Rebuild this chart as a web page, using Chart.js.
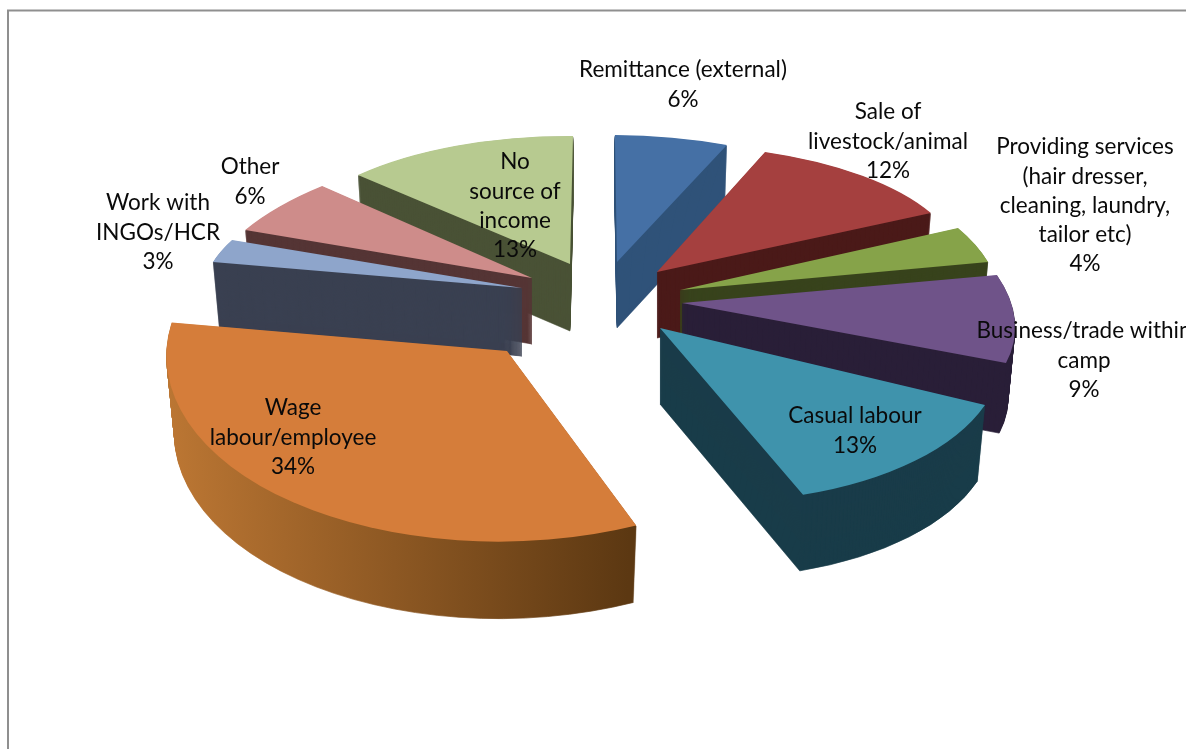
<!DOCTYPE html>
<html><head><meta charset="utf-8">
<style>html,body{margin:0;padding:0;background:#fff;overflow:hidden}canvas{display:block}</style>
<script src="https://cdn.jsdelivr.net/npm/chart.js@4"></script>
</head><body><canvas id="c" width="1186" height="749"></canvas>
<script>
const categories = ["Remittance (external)","Sale of livestock/animal","Providing services (hair dresser, cleaning, laundry, tailor etc)","Business/trade within camp","Casual labour","Wage labour/employee","Work with INGOs/HCR","Other","No source of income"];
const values = [6,12,4,9,13,34,3,6,13];
const labelLines = [["Remittance (external)"],["Sale of","livestock/animal"],["Providing services","(hair dresser,","cleaning, laundry,","tailor etc)"],["Business/trade within","camp"],["Casual labour"],["Wage","labour/employee"],["Work with","INGOs/HCR"],["Other"],["No","source of","income"]];
const topColors = ["#4570a5","#a5403f","#86a349","#6f5389","#3f93ac","#d57d3a","#8ea5cb","#ce8c8a","#b7ca90"];
const sideColors = ["#2f5279","#4b1a19","#38431c","#2a1f38","#193c49",null,"#3a4051","#553535","#4a5236"];
const wageSideStops = ["#bb7633","#5c3812"];

// projection of the tilted, exploded pie (per slice, relative to the arc centre)
const BASE_RADIUS = 300;
const explodeX = [24,64,87,89,67,-86,-71,-61,-23];
const explodeY = [-112.5,-102.5,-84.5,-71.5,-46.5,-23.5,-86.5,-96.5,-110.5];
const scaleX = [1.013,1.016,1.060,1.099,1.141,1.135,1.057,1.078,0.979];
const scaleY = [0.423,0.423,0.477,0.529,0.580,0.635,0.409,0.457,0.427];
const shearX = [0.007,0.015,0.076,0.158,0.061,0.014,-0.044,-0.126,-0.010];
const shearY = [0.009,-0.018,-0.004,0.006,0.046,-0.024,0.010,-0.009,0.006];
const depths = [66,66,66,70,76,77,68,66,67];
const DEPTH_SHRINK = 0.0003;
const labelCenters = [[683,70],[888,112],[1085,147],[1084,331],[855,416],[293,408],[158,203],[250,167],[515,162]];
const LINE = 29.3;

const pie3d = {
  id:'pie3d',
  beforeDraw(chart){
    const c = chart.ctx; c.save();
    c.strokeStyle='#8f8f8f'; c.lineWidth=2;
    c.beginPath(); c.moveTo(8,749); c.lineTo(8,10.5); c.lineTo(1186,10.5); c.stroke();
    c.restore();
  },
  beforeDatasetsDraw(chart){
    const c = chart.ctx, els = chart.getDatasetMeta(0).data;
    const order = els.map((_,i)=>i).sort((a,b)=>explodeY[a]-explodeY[b]);
    for(const i of order){
      const el = els[i], orig = el.options;
      const place = d => {
        const s = 1 - d*DEPTH_SHRINK;
        c.translate(el.x+explodeX[i], el.y+explodeY[i]+d);
        c.transform(scaleX[i]*s, shearY[i], shearX[i]*s, scaleY[i], 0, 0);
        c.translate(-el.x,-el.y);
      };
      let side = sideColors[i];
      if(!side){
        side = c.createLinearGradient(el.x-BASE_RADIUS,0,el.x+BASE_RADIUS*0.35,0);
        side.addColorStop(0,wageSideStops[0]); side.addColorStop(1,wageSideStops[1]);
      }
      const sideOpts = Object.create(orig);
      sideOpts.backgroundColor = side; sideOpts.borderColor = side; sideOpts.borderWidth = 0.8;
      el.options = sideOpts;
      for(let d=depths[i]; d>=1; d-=1){ c.save(); place(d); el.draw(c); c.restore(); }
      el.options = orig;
      c.save(); place(0); el.draw(c); c.restore();
    }
    return false;
  },
  afterDraw(chart){
    const c = chart.ctx; c.save();
    c.font='22.5px Lato'; c.fillStyle='#0a0a0a'; c.textAlign='center'; c.textBaseline='middle';
    labelLines.forEach((lines,i)=>{
      const [x,y]=labelCenters[i];
      [...lines, values[i]+'%'].forEach((t,j)=>c.fillText(t,x,y+j*LINE));
    });
    c.restore();
  }
};
new Chart(document.getElementById('c'),{
  type:'pie',
  data:{labels:categories,datasets:[{data:values,backgroundColor:topColors,borderWidth:0}]},
  options:{responsive:false,animation:false,radius:BASE_RADIUS,plugins:{legend:{display:false},tooltip:{enabled:false},title:{display:false}},layout:{padding:0}},
  plugins:[pie3d]
});
</script></body></html>
